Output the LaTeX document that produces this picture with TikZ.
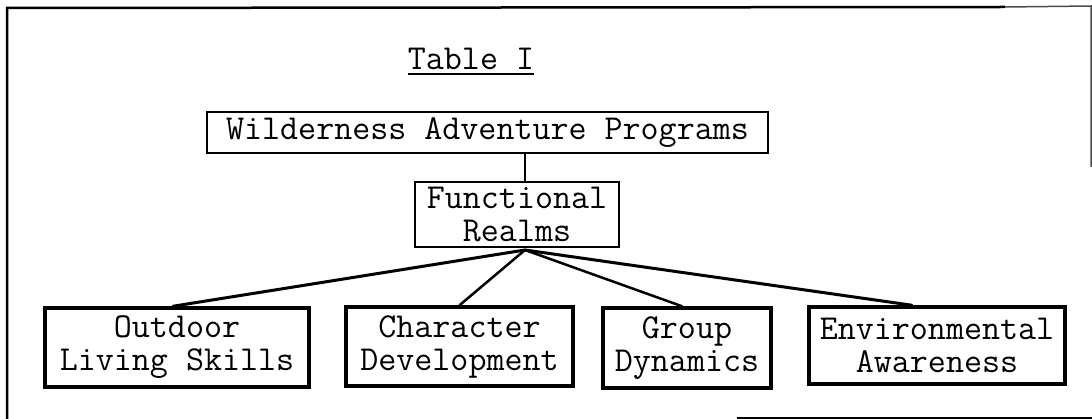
\documentclass[tikz,border=0pt]{standalone}
\usepackage{fontspec}
\usetikzlibrary{calc}
\begin{document}
\begin{tikzpicture}[x=1pt,y=-1pt,
  lbl/.style={font=\ttfamily\fontsize{35}{33}\selectfont, align=center, inner sep=0pt},
  boxa/.style={lbl, draw, line width=2pt},
  boxb/.style={lbl, draw, line width=3.5pt},
  conn/.style={line width=3pt, line cap=round},
  frame/.style={line width=2.5pt}]
\useasboundingbox (0,0) rectangle (1092,419);
% outer frame
\draw[frame] (7,419) -- (7,8) -- (1005,7);
\draw[line width=1.5pt, black!70] (1005,7) -- (1091,6) -- (1091,167);
\draw[frame] (737,418) -- (1092,418);
% title
\node[lbl, anchor=base] (title) at (471,70) {Table I};
\draw[line width=2pt] ([yshift=-4pt]title.base west) -- ([yshift=-4pt]title.base east);
% boxes
\node[boxa, minimum width=561, minimum height=41] (wap) at (487.5,132.5) {Wilderness Adventure Programs};
\node[boxa, line width=2.5pt, minimum width=204, minimum height=65] (func) at (517,214.5) {Functional\\Realms};
\node[boxb, minimum width=264, minimum height=79] (out) at (177,347.5) {Outdoor\\Living Skills};
\node[boxb, minimum width=227, minimum height=79] (char) at (459.5,346.5) {Character\\Development};
\node[boxb, minimum width=168, minimum height=80] (grp) at (687,348) {Group\\Dynamics};
\node[boxb, minimum width=256, minimum height=77] (env) at (937,345.5) {Environmental\\Awareness};
% connectors
\coordinate (hub) at (525,250);
\draw[line width=2.5pt] (wap.south -| hub) -- (func.north -| hub);
\draw[conn] (hub) -- ($(out.north)+(-4,0)$);
\draw[conn, line width=2.5pt] (hub) -- (char.north);
\draw[conn, line width=2.5pt] (hub) -- ($(grp.north)+(-5,0)$);
\draw[conn] (hub) -- ($(env.north)+(-25,0)$);
\end{tikzpicture}
\end{document}
